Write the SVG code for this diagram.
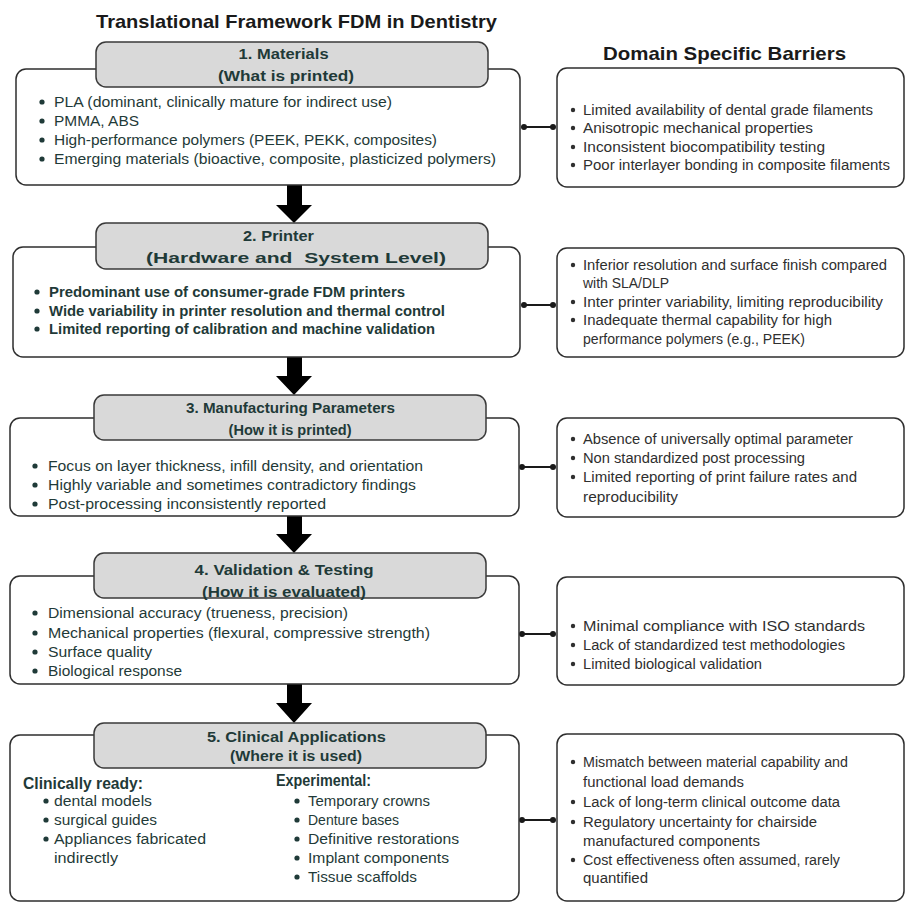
<svg xmlns="http://www.w3.org/2000/svg" width="906" height="904" viewBox="0 0 906 904">
<style>
.bg{fill:#ffffff}
.main{fill:#ffffff;stroke:#2e2e2e;stroke-width:1.5}
.hdr{fill:#d9d9d9;stroke:#3a3a3a;stroke-width:1.5}
.title{font-family:"Liberation Sans",Arial,sans-serif;font-weight:bold;font-size:19px;fill:#1a1a1a}
.ht{font-family:"Liberation Sans",Arial,sans-serif;font-weight:bold;font-size:15px;fill:#1f3a38}
.lt{font-family:"Liberation Sans",Arial,sans-serif;font-size:14px;fill:#1f3a38}
.lb{font-family:"Liberation Sans",Arial,sans-serif;font-weight:bold;font-size:14px;fill:#1f3a38}
.sub{font-family:"Liberation Sans",Arial,sans-serif;font-weight:bold;font-size:16px;fill:#1f3a38}
.rt{font-family:"Liberation Sans",Arial,sans-serif;font-size:14px;fill:#2f2f2f}
.dot{fill:#1f3a38}
.rdot{fill:#2f2f2f}
.arrow{fill:#000000}
.conn line{stroke:#1a1a1a;stroke-width:2}
.conn circle{fill:#1a1a1a}
</style>
<rect class="bg" x="0" y="0" width="906" height="904"/>

<text class="title" x="96" y="28" textLength="401" lengthAdjust="spacingAndGlyphs">Translational Framework FDM in Dentistry</text>
<text class="title" x="603" y="60" textLength="243" lengthAdjust="spacingAndGlyphs">Domain Specific Barriers</text>

<g id="arrows">
<path class="arrow" d="M287,185 H302 V205 H312 L294,223 L276,205 H287 Z"/>
<path class="arrow" d="M287,357 H302 V376 H312 L294,395 L276,376 H287 Z"/>
<path class="arrow" d="M287,516 H302 V534 H312 L294,553 L276,534 H287 Z"/>
<path class="arrow" d="M287,684 H302 V703 H312 L294,723 L276,703 H287 Z"/>
</g>

<g id="connectors" class="conn">
<line x1="524" y1="127" x2="553" y2="127"/><circle cx="524" cy="127" r="3"/><circle cx="553" cy="127" r="3"/>
<line x1="524" y1="305" x2="553" y2="305"/><circle cx="524" cy="305" r="3"/><circle cx="553" cy="305" r="3"/>
<line x1="522" y1="467" x2="553" y2="467"/><circle cx="522" cy="467" r="3"/><circle cx="553" cy="467" r="3"/>
<line x1="522" y1="634" x2="553" y2="634"/><circle cx="522" cy="634" r="3"/><circle cx="553" cy="634" r="3"/>
<line x1="522" y1="820" x2="553" y2="820"/><circle cx="522" cy="820" r="3"/><circle cx="553" cy="820" r="3"/>
</g>

<g id="materials">
<rect class="main" x="16" y="69" width="504" height="116" rx="10"/>
<rect class="hdr" x="96" y="42" width="392" height="45" rx="10"/>
<text class="ht" x="238.6" y="59" textLength="90" lengthAdjust="spacingAndGlyphs">1. Materials</text>
<text class="ht" x="218" y="81" textLength="136" lengthAdjust="spacingAndGlyphs">(What is printed)</text>
<circle class="dot" cx="42" cy="102" r="2.6"/>
<text class="lt" x="54" y="107" textLength="338" lengthAdjust="spacingAndGlyphs">PLA (dominant, clinically mature for indirect use)</text>
<circle class="dot" cx="42" cy="121" r="2.6"/>
<text class="lt" x="54" y="126" textLength="85" lengthAdjust="spacingAndGlyphs">PMMA, ABS</text>
<circle class="dot" cx="42" cy="140" r="2.6"/>
<text class="lt" x="54" y="145" textLength="383" lengthAdjust="spacingAndGlyphs">High-performance polymers (PEEK, PEKK, composites)</text>
<circle class="dot" cx="42" cy="159" r="2.6"/>
<text class="lt" x="54" y="164" textLength="442" lengthAdjust="spacingAndGlyphs">Emerging materials (bioactive, composite, plasticized polymers)</text>
</g>

<g id="barriers-materials">
<rect class="main" x="557" y="68" width="347" height="119" rx="10"/>
<circle class="rdot" cx="573" cy="110" r="2.2"/>
<text class="rt" x="583" y="115" textLength="290" lengthAdjust="spacingAndGlyphs">Limited availability of dental grade filaments</text>
<circle class="rdot" cx="573" cy="128" r="2.2"/>
<text class="rt" x="583" y="133" textLength="230" lengthAdjust="spacingAndGlyphs">Anisotropic mechanical properties</text>
<circle class="rdot" cx="573" cy="147" r="2.2"/>
<text class="rt" x="583" y="152" textLength="242" lengthAdjust="spacingAndGlyphs">Inconsistent biocompatibility testing</text>
<circle class="rdot" cx="573" cy="165" r="2.2"/>
<text class="rt" x="583" y="170" textLength="307" lengthAdjust="spacingAndGlyphs">Poor interlayer bonding in composite filaments</text>
</g>

<g id="printer">
<rect class="main" x="13" y="247" width="507" height="110" rx="10"/>
<rect class="hdr" x="96" y="223" width="392" height="46" rx="10"/>
<text class="ht" x="243" y="241" textLength="71" lengthAdjust="spacingAndGlyphs">2. Printer</text>
<text class="ht" x="146" y="263" textLength="300" lengthAdjust="spacingAndGlyphs" xml:space="preserve">(Hardware and  System Level)</text>
<circle class="dot" cx="37" cy="292" r="2.6"/>
<text class="lb" x="49" y="297" textLength="356" lengthAdjust="spacingAndGlyphs">Predominant use of consumer-grade FDM printers</text>
<circle class="dot" cx="37" cy="311" r="2.6"/>
<text class="lb" x="49" y="316" textLength="396" lengthAdjust="spacingAndGlyphs">Wide variability in printer resolution and thermal control</text>
<circle class="dot" cx="37" cy="329" r="2.6"/>
<text class="lb" x="49" y="334" textLength="386" lengthAdjust="spacingAndGlyphs">Limited reporting of calibration and machine validation</text>
</g>

<g id="barriers-printer">
<rect class="main" x="557" y="248" width="347" height="109" rx="10"/>
<circle class="rdot" cx="573" cy="265" r="2.2"/>
<text class="rt" x="583" y="270" textLength="304" lengthAdjust="spacingAndGlyphs">Inferior resolution and surface finish compared</text>
<text class="rt" x="583" y="288" textLength="86" lengthAdjust="spacingAndGlyphs">with SLA/DLP</text>
<circle class="rdot" cx="573" cy="302" r="2.2"/>
<text class="rt" x="583" y="307" textLength="300" lengthAdjust="spacingAndGlyphs">Inter printer variability, limiting reproducibility</text>
<circle class="rdot" cx="573" cy="320" r="2.2"/>
<text class="rt" x="583" y="325" textLength="249" lengthAdjust="spacingAndGlyphs">Inadequate thermal capability for high</text>
<text class="rt" x="583" y="344" textLength="222" lengthAdjust="spacingAndGlyphs">performance polymers (e.g., PEEK)</text>
</g>

<g id="parameters">
<rect class="main" x="10" y="418" width="509" height="98" rx="10"/>
<rect class="hdr" x="94" y="395" width="392" height="45" rx="10"/>
<text class="ht" x="186" y="413" textLength="209" lengthAdjust="spacingAndGlyphs">3. Manufacturing Parameters</text>
<text class="ht" x="228.6" y="435" textLength="123" lengthAdjust="spacingAndGlyphs">(How it is printed)</text>
<circle class="dot" cx="35" cy="466" r="2.6"/>
<text class="lt" x="48" y="471" textLength="375" lengthAdjust="spacingAndGlyphs">Focus on layer thickness, infill density, and orientation</text>
<circle class="dot" cx="35" cy="485" r="2.6"/>
<text class="lt" x="48" y="490" textLength="368" lengthAdjust="spacingAndGlyphs">Highly variable and sometimes contradictory findings</text>
<circle class="dot" cx="35" cy="504" r="2.6"/>
<text class="lt" x="48" y="509" textLength="278" lengthAdjust="spacingAndGlyphs">Post-processing inconsistently reported</text>
</g>

<g id="barriers-parameters">
<rect class="main" x="557" y="418" width="347" height="99" rx="10"/>
<circle class="rdot" cx="573" cy="439" r="2.2"/>
<text class="rt" x="583" y="444" textLength="270" lengthAdjust="spacingAndGlyphs">Absence of universally optimal parameter</text>
<circle class="rdot" cx="573" cy="458" r="2.2"/>
<text class="rt" x="583" y="463" textLength="222" lengthAdjust="spacingAndGlyphs">Non standardized post processing</text>
<circle class="rdot" cx="573" cy="477" r="2.2"/>
<text class="rt" x="583" y="482" textLength="274" lengthAdjust="spacingAndGlyphs">Limited reporting of print failure rates and</text>
<text class="rt" x="583" y="502" textLength="95" lengthAdjust="spacingAndGlyphs">reproducibility</text>
</g>

<g id="validation">
<rect class="main" x="10" y="576" width="509" height="108" rx="10"/>
<rect class="hdr" x="94" y="553" width="392" height="45" rx="10"/>
<text class="ht" x="194.6" y="575" textLength="179" lengthAdjust="spacingAndGlyphs">4. Validation &amp; Testing</text>
<text class="ht" x="202" y="597" textLength="164" lengthAdjust="spacingAndGlyphs">(How it is evaluated)</text>
<circle class="dot" cx="35" cy="613" r="2.6"/>
<text class="lt" x="48" y="618" textLength="300" lengthAdjust="spacingAndGlyphs">Dimensional accuracy (trueness, precision)</text>
<circle class="dot" cx="35" cy="633" r="2.6"/>
<text class="lt" x="48" y="638" textLength="382" lengthAdjust="spacingAndGlyphs">Mechanical properties (flexural, compressive strength)</text>
<circle class="dot" cx="35" cy="652" r="2.6"/>
<text class="lt" x="48" y="657" textLength="104" lengthAdjust="spacingAndGlyphs">Surface quality</text>
<circle class="dot" cx="35" cy="671" r="2.6"/>
<text class="lt" x="48" y="676" textLength="134" lengthAdjust="spacingAndGlyphs">Biological response</text>
</g>

<g id="barriers-validation">
<rect class="main" x="557" y="577" width="347" height="108" rx="10"/>
<circle class="rdot" cx="573" cy="626" r="2.2"/>
<text class="rt" x="583" y="631" textLength="282" lengthAdjust="spacingAndGlyphs">Minimal compliance with ISO standards</text>
<circle class="rdot" cx="573" cy="645" r="2.2"/>
<text class="rt" x="583" y="650" textLength="262" lengthAdjust="spacingAndGlyphs">Lack of standardized test methodologies</text>
<circle class="rdot" cx="573" cy="664" r="2.2"/>
<text class="rt" x="583" y="669" textLength="179" lengthAdjust="spacingAndGlyphs">Limited biological validation</text>
</g>

<g id="clinical">
<rect class="main" x="10" y="735" width="509" height="166" rx="10"/>
<rect class="hdr" x="94" y="723" width="392" height="45" rx="10"/>
<text class="ht" x="207" y="742" textLength="179" lengthAdjust="spacingAndGlyphs">5. Clinical Applications</text>
<text class="ht" x="230" y="761" textLength="132" lengthAdjust="spacingAndGlyphs">(Where it is used)</text>
<text class="sub" x="23" y="789" textLength="120" lengthAdjust="spacingAndGlyphs">Clinically ready:</text>
<circle class="dot" cx="46" cy="801" r="2.6"/>
<text class="lt" x="54" y="806" textLength="98" lengthAdjust="spacingAndGlyphs">dental models</text>
<circle class="dot" cx="46" cy="820" r="2.6"/>
<text class="lt" x="54" y="825" textLength="103" lengthAdjust="spacingAndGlyphs">surgical guides</text>
<circle class="dot" cx="46" cy="839" r="2.6"/>
<text class="lt" x="54" y="844" textLength="152" lengthAdjust="spacingAndGlyphs">Appliances fabricated</text>
<text class="lt" x="54" y="863" textLength="64" lengthAdjust="spacingAndGlyphs">indirectly</text>
<text class="sub" x="276" y="786" textLength="95" lengthAdjust="spacingAndGlyphs">Experimental:</text>
<circle class="dot" cx="297" cy="801" r="2.6"/>
<text class="lt" x="308" y="806" textLength="122" lengthAdjust="spacingAndGlyphs">Temporary crowns</text>
<circle class="dot" cx="297" cy="820" r="2.6"/>
<text class="lt" x="308" y="825" textLength="91" lengthAdjust="spacingAndGlyphs">Denture bases</text>
<circle class="dot" cx="297" cy="839" r="2.6"/>
<text class="lt" x="308" y="844" textLength="151" lengthAdjust="spacingAndGlyphs">Definitive restorations</text>
<circle class="dot" cx="297" cy="858" r="2.6"/>
<text class="lt" x="308" y="863" textLength="141" lengthAdjust="spacingAndGlyphs">Implant components</text>
<circle class="dot" cx="297" cy="877" r="2.6"/>
<text class="lt" x="308" y="882" textLength="109" lengthAdjust="spacingAndGlyphs">Tissue scaffolds</text>
</g>

<g id="barriers-clinical">
<rect class="main" x="557" y="734" width="347" height="167" rx="10"/>
<circle class="rdot" cx="573" cy="762" r="2.2"/>
<text class="rt" x="583" y="767" textLength="265" lengthAdjust="spacingAndGlyphs">Mismatch between material capability and</text>
<text class="rt" x="583" y="787" textLength="161" lengthAdjust="spacingAndGlyphs">functional load demands</text>
<circle class="rdot" cx="573" cy="802" r="2.2"/>
<text class="rt" x="583" y="807" textLength="257" lengthAdjust="spacingAndGlyphs">Lack of long-term clinical outcome data</text>
<circle class="rdot" cx="573" cy="822" r="2.2"/>
<text class="rt" x="583" y="827" textLength="234" lengthAdjust="spacingAndGlyphs">Regulatory uncertainty for chairside</text>
<text class="rt" x="583" y="846" textLength="177" lengthAdjust="spacingAndGlyphs">manufactured components</text>
<circle class="rdot" cx="573" cy="860" r="2.2"/>
<text class="rt" x="583" y="865" textLength="257" lengthAdjust="spacingAndGlyphs">Cost effectiveness often assumed, rarely</text>
<text class="rt" x="583" y="883" textLength="65" lengthAdjust="spacingAndGlyphs">quantified</text>
</g>
</svg>
